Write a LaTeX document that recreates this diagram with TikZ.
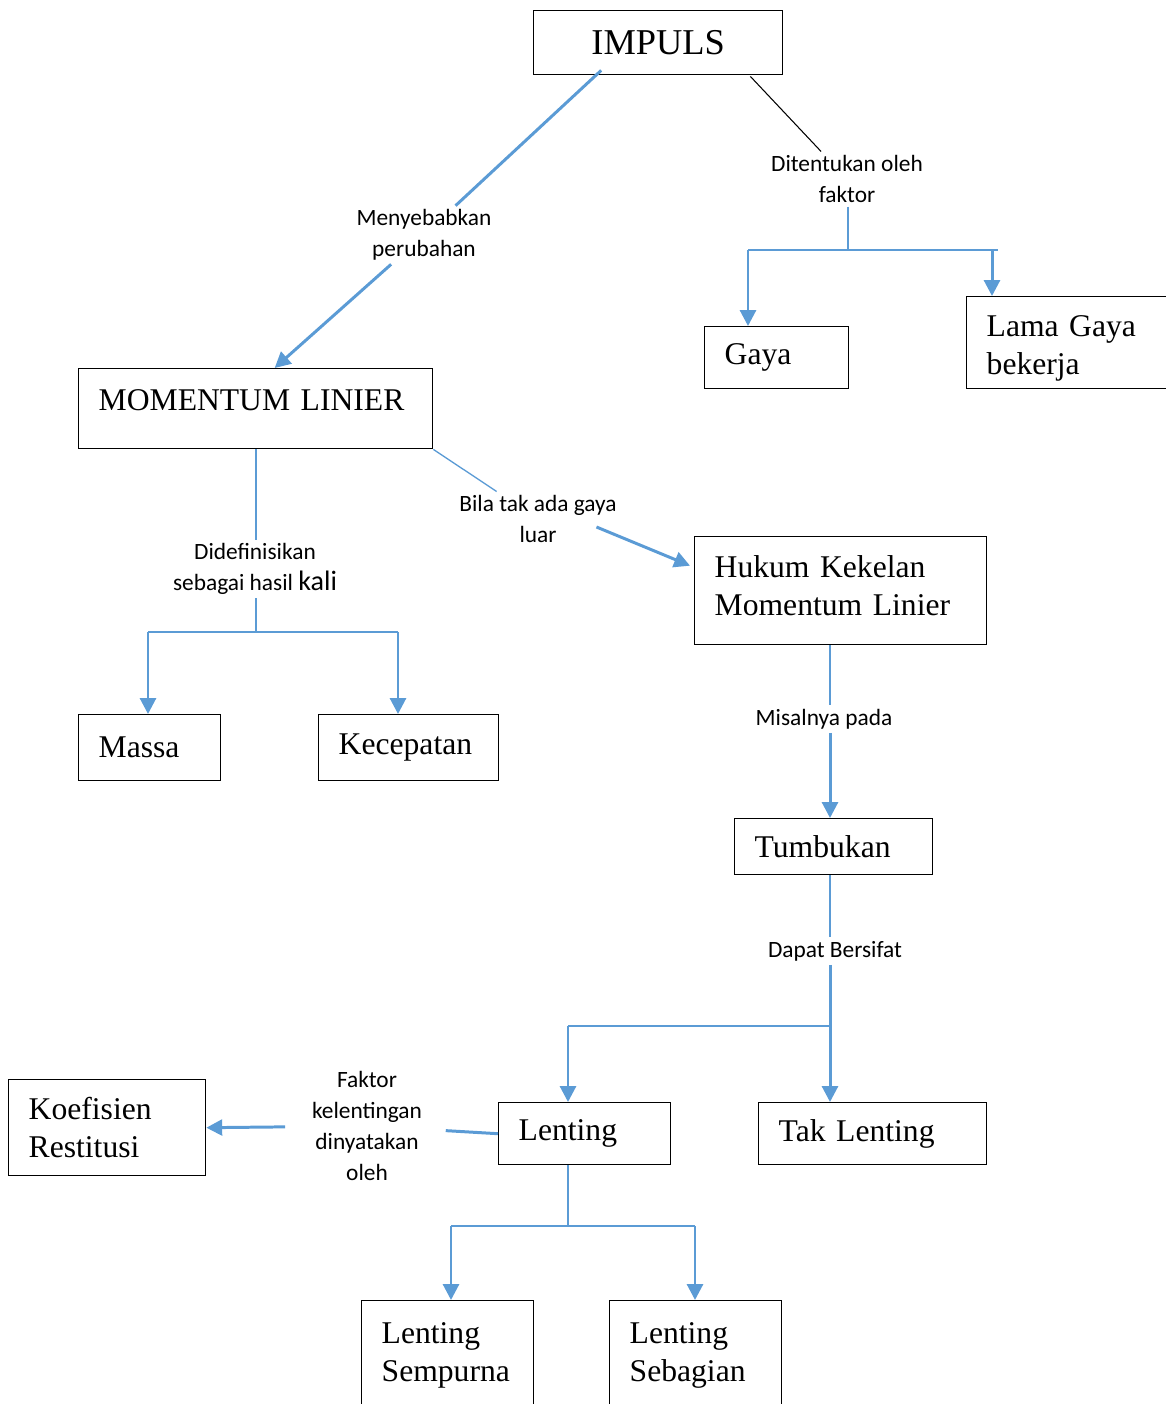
\documentclass[tikz,border=0pt]{standalone}
\usepackage{fontspec}
\setmainfont{Liberation Serif}
\newfontfamily\lblfont{Carlito}
\usetikzlibrary{arrows.meta,calc}
\definecolor{lineblue}{HTML}{5B9BD5}

\begin{document}
\begin{tikzpicture}[x=0.02cm,y=-0.02cm]
\tikzstyle{box}=[rectangle, draw=black, line width=0.8pt, anchor=north west, align=left, inner xsep=0.4cm, inner ysep=0pt, font=\fontsize{18}{21.5}\selectfont]
\tikzstyle{lbl}=[align=center, inner sep=2pt, font=\lblfont\fontsize{13.3}{17.6}\selectfont]
\tikzstyle{thn}=[draw=lineblue, line width=0.75pt]
\tikzstyle{thk}=[draw=lineblue, line width=1.7pt]
\tikzstyle{arrow}=[thk, -{Triangle[width=9pt,length=9pt]}]
\useasboundingbox (0,0) rectangle (1166,1404);
% boxes
\node[box, text width=4.18cm, minimum height=1.28cm, align=center, font=\fontsize{20.7}{24}\selectfont] (imp) at (533,10) {IMPULS};
\node[box, text width=6.28cm, minimum height=1.6cm, text depth=9.6pt] (mom) at (78,368) {MOMENTUM LINIER};
\node[box, text width=2.08cm, minimum height=1.24cm] (gaya) at (704,326) {Gaya};
\node[box, text width=3.4cm, minimum height=1.84cm, text depth=18.7pt] (lama) at (966,296) {Lama Gaya\\bekerja};
\node[box, text width=5.04cm, minimum height=2.16cm, text depth=27pt] (hkm) at (694,536) {Hukum Kekelan\\Momentum Linier};
\node[box, text width=2.04cm, minimum height=1.32cm] (massa) at (78,714) {Massa};
\node[box, text width=2.8cm, minimum height=1.32cm] (kec) at (318,714) {Kecepatan};
\node[box, text width=3.16cm, minimum height=1.12cm] (tum) at (734,818) {Tumbukan};
\node[box, text width=2.64cm, minimum height=1.24cm] (len) at (498,1102) {Lenting};
\node[box, text width=3.76cm, minimum height=1.24cm] (tak) at (758,1102) {Tak Lenting};
\node[box, text width=3.14cm, minimum height=1.92cm] (koef) at (8,1079) {Koefisien\\Restitusi};
\node[box, text width=2.64cm, minimum height=2.2cm] (lsem) at (361,1300) {Lenting\\Sempurna};
\node[box, text width=2.64cm, minimum height=2.2cm] (lseb) at (609,1300) {Lenting\\Sebagian};
% labels
\node[lbl] (menye) at (424,235) {Menyebabkan\\perubahan};
\node[lbl] (dite) at (847,179) {Ditentukan oleh\\faktor};
\node[lbl] (didef) at (255,569) {Didefinisikan\\sebagai hasil {\fontsize{16}{17.6}\selectfont kali}};
\node[lbl] (bila) at (538,519) {Bila tak ada gaya\\luar};
\node[lbl] (misal) at (824,719) {Misalnya pada};
\node[lbl] (dapat) at (835,951) {Dapat Bersifat};
\node[lbl] (faktor) at (367,1126) {Faktor\\kelentingan\\dinyatakan\\oleh};
% impuls
\draw[thk] ($(imp.south)+(-57,-5)$) -- (menye);
\draw[arrow] (menye) -- ($(mom.north)+(19,0)$);
\draw[black, line width=0.6pt] ($(imp.south east)+(-33,1)$) -- (dite);
\coordinate (f0) at (848,250);
\coordinate (f1) at (748,250);
\coordinate (f2) at (992,250);
\draw[thn] (f0 |- dite.south) -- (f0);
\draw[thn] (f1) -- ($(f2)+(6,0)$);
\draw[arrow] (f1) -- (f1 |- gaya.north);
\draw[arrow] (f2) -- (f2 |- lama.north);
% momentum
\coordinate (d0) at (256,632);
\coordinate (d1) at (148,632);
\coordinate (d2) at (398,632);
\draw[thn] (mom.south -| d0) -- (d0 |- didef.north);
\draw[thn] (d0 |- didef.south) -- (d0);
\draw[thn] (d1) -- (d2);
\draw[arrow] (d1) -- (d1 |- massa.north);
\draw[arrow] (d2) -- (d2 |- kec.north);
\draw[thn] (mom.south east) -- (bila);
\draw[arrow] ($(bila.east)+(-24,8)$) -- ($(hkm.west)+(-4,-25)$);
% hukum
\coordinate (t0) at (830,1026);
\coordinate (t1) at (568,1026);
\draw[thn] (hkm.south -| t0) -- (t0 |- misal.north);
\draw[arrow] (t0 |- misal.south) -- (t0 |- tum.north);
% tumbukan
\draw[thn] (tum.south -| t0) -- (t0 |- dapat.north);
\draw[arrow] (t0 |- dapat.south) -- (t0 |- tak.north);
\draw[thn] (t1) -- (t0);
\draw[arrow] (t1) -- (t1 |- len.north);
% lenting
\draw[thk, shorten >=0.4cm] (len.west) -- (faktor);
\draw[arrow, shorten <=0.46cm] (faktor) -- (koef.east);
\coordinate (l0) at (568,1226);
\coordinate (l1) at (451,1226);
\coordinate (l2) at (695,1226);
\draw[thn] (len.south -| l0) -- (l0);
\draw[thn] (l1) -- (l2);
\draw[arrow] (l1) -- (l1 |- lsem.north);
\draw[arrow] (l2) -- (l2 |- lseb.north);
\end{tikzpicture}
\end{document}
